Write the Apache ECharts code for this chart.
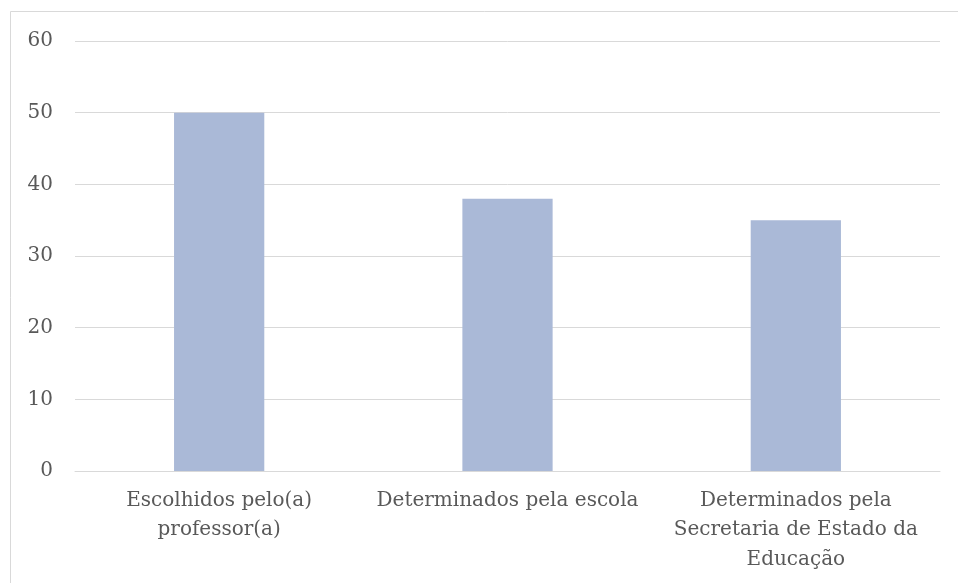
<!DOCTYPE html>
<html>
<head>
<meta charset="utf-8">
<script src="https://cdn.jsdelivr.net/npm/echarts@6/dist/echarts.min.js"></script>
<style>
  html, body { margin: 0; padding: 0; background: #fff; }
  #chart { width: 958px; height: 583px; }
</style>
</head>
<body>
<div id="chart"></div>
<script>
// Origem dos conteúdos trabalhados
const categories = [
  'Escolhidos pelo(a)\nprofessor(a)',
  'Determinados pela escola',
  'Determinados pela\nSecretaria de Estado da\nEducação'
];
const values = [50, 38, 35];
const yTicks = { min: 0, max: 60, interval: 10 };

const fontFamily = '"DejaVu Serif", serif';
const textColor = '#595959';

const chart = echarts.init(document.getElementById('chart'));
chart.setOption({
  animation: false,
  backgroundColor: '#ffffff',
  graphic: [{
    type: 'rect',
    shape: { x: 10.5, y: 11.5, width: 1000, height: 1000 },
    style: { fill: 'none', stroke: '#d9d9d9', lineWidth: 1 },
    silent: true
  }],
  grid: { left: 75, right: 18, top: 41, bottom: 112, containLabel: false },
  xAxis: {
    type: 'category',
    data: categories,
    axisLine: { show: true, lineStyle: { color: '#d9d9d9', width: 1 } },
    axisTick: { show: false },
    axisLabel: {
      color: textColor,
      fontFamily: fontFamily,
      fontSize: 20,
      lineHeight: 29.5,
      margin: 15,
      interval: 0
    }
  },
  yAxis: {
    type: 'value',
    min: yTicks.min,
    max: yTicks.max,
    interval: yTicks.interval,
    axisLine: { show: false },
    axisTick: { show: false },
    splitLine: { lineStyle: { color: '#d9d9d9', width: 1 } },
    axisLabel: {
      color: textColor,
      fontFamily: fontFamily,
      fontSize: 20,
      margin: 22
    }
  },
  series: [{
    type: 'bar',
    data: values,
    barWidth: '31.3%',
    itemStyle: { color: '#aab9d7' }
  }]
});
</script>
</body>
</html>
